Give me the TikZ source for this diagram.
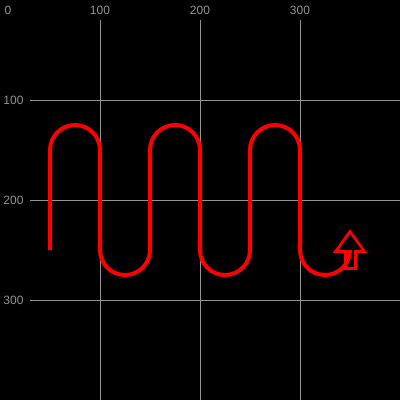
\documentclass[tikz,border=0pt]{standalone}
\usepackage{fontspec}
\setmainfont{Liberation Sans}
\begin{document}
\begin{tikzpicture}[x=1pt,y=-1pt,
  gridline/.style={draw=gray!85,line width=1pt},
  axislabel/.style={text=gray!85,font=\fontsize{12}{14}\selectfont,inner sep=0pt},
  wave/.style={draw=red,line width=4pt},
  marker/.style={draw=red,line width=2.7pt,line join=miter}]
\fill[black] (0,0) rectangle (400,400);
\useasboundingbox (0,0) rectangle (400,400);
% grid
\foreach \v in {100,200,300}{
  \draw[gridline] (\v,20) -- (\v,400);
  \draw[gridline] (30,\v) -- (400,\v);
}
% labels
\node[axislabel] (t0) at (8,10) {0};
\node[axislabel] (t1) at (100,10) {100};
\node[axislabel] (t2) at (200,10) {200};
\node[axislabel] (t3) at (300,10) {300};
\node[axislabel] (l1) at (13.5,100) {100};
\node[axislabel] (l2) at (13.5,200) {200};
\node[axislabel] (l3) at (13.5,300) {300};
% wave
\coordinate (s) at (50,250);
\draw[wave] (s) -- (50,150) arc[start angle=180,end angle=360,radius=25]
  -- (100,250) arc[start angle=180,end angle=0,radius=25]
  -- (150,150) arc[start angle=180,end angle=360,radius=25]
  -- (200,250) arc[start angle=180,end angle=0,radius=25]
  -- (250,150) arc[start angle=180,end angle=360,radius=25]
  -- (300,250) arc[start angle=180,end angle=0,radius=25] coordinate (e);
% end marker
\draw[marker] (345.5,268.5) -- (355.5,268.5) -- (355.5,251.5) -- (364.5,251.5) -- (350,231.5)
  -- (335.5,251.5) -- (345.5,251.5) -- cycle;
\end{tikzpicture}
\end{document}
